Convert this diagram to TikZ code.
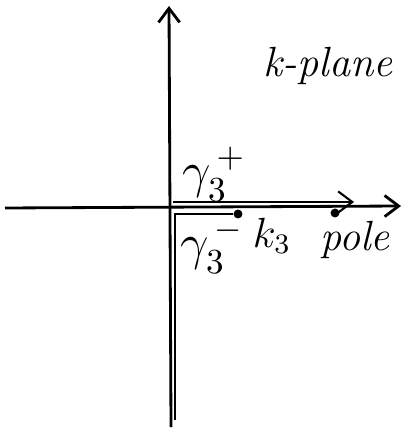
\documentclass[tikz,border=0pt]{standalone}
\usepackage{amsmath,amssymb}
\usepackage{tikz}
\usetikzlibrary{arrows.meta,calc,positioning}

\begin{document}
\begin{tikzpicture}[x=0.01cm,y=-0.01cm,
  axis/.style={thick,-{Straight Barb[length=4pt,width=6pt]}},
  path3/.style={semithick},
  lbl/.style={inner sep=1pt,font=\large}]
  \useasboundingbox (0,0) rectangle (402,428);

  \coordinate (xl) at (5,208);
  \coordinate (xr) at (401,206);
  \coordinate (yb) at (171,427);
  \coordinate (yt) at (169,6);
  \coordinate (C1) at (173,202);
  \coordinate (C2) at (354,202);
  \coordinate (C3) at (175,420);
  \coordinate (C4) at (175,214);

  \draw[axis] (xl)--(xr);
  \draw[axis] (yb)--(yt);

  \node[circle,fill,inner sep=0.9pt] (k3) at (238,214) {};
  \node[circle,fill,inner sep=0.9pt] (pole) at (335,213) {};

  \draw[path3,-{Straight Barb[length=4pt,width=6pt]}] (C1)--(C2);
  \draw[path3] (C3)--(C4)--(k3);

  \node[lbl,font=\Large] (gplus) at (214,174) {$\gamma_3^{\,+}$};
  \node[lbl,font=\Large] (gminus) at (212,246) {$\gamma_3^{\,-}$};
  \node[lbl] (k3lbl) at (272,236) {$k_3$};
  \node[lbl,anchor=north] (polelbl) at (355,217) {\itshape pole};
  \node[lbl] (plane) at (328,66) {\itshape k-plane};
\end{tikzpicture}
\end{document}
